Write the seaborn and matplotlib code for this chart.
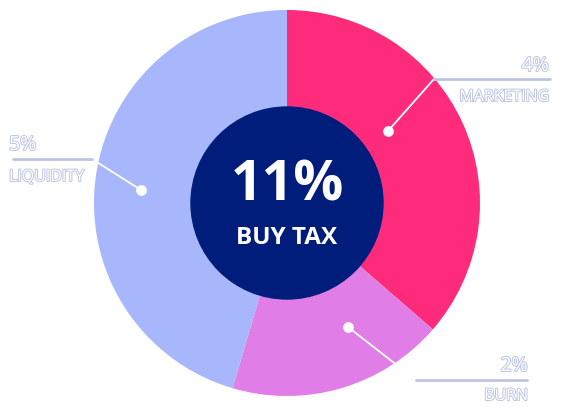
import matplotlib
matplotlib.use("Agg")
import matplotlib.pyplot as plt
import matplotlib.patheffects as pe
import seaborn as sns

categories = ["MARKETING", "BURN", "LIQUIDITY"]
values = [4, 2, 5]
value_labels = ["4%", "2%", "5%"]
center_title = "11%"
center_sub = "BUY TAX"

sns.set_theme(style="white")
plt.rcParams['font.family'] = ['Open Sans', 'DejaVu Sans']

colors = ["#FE2B7B", "#E17DE7", "#A8B7FB"]
navy = "#001D7B"
outline = "#BCC5E4"

fig = plt.figure(figsize=(5.75, 4.08), dpi=100)
ax = fig.add_axes([0, 0, 1, 1])

cx, cy, R = 287, 203, 193
ax.pie(values, colors=colors, startangle=-90, counterclock=True,
       center=(cx, cy), radius=R, wedgeprops=dict(linewidth=0))
ax.set_xlim(0, 575)
ax.set_ylim(408, 0)
ax.set_aspect("equal")
ax.axis("off")

ax.add_patch(plt.Circle((cx, cy), 96, color=navy, zorder=3))
ax.text(cx, 186, center_title, color="white", fontsize=40, fontweight="bold",
        ha="center", va="center", zorder=4)
ax.text(cx, 238, center_sub, color="white", fontsize=17.5, fontweight="bold",
        ha="center", va="center", zorder=4)

leaders = {
    "MARKETING": dict(dot=(388, 131), elbow=(434, 79), end=(550, 79),
                      ha="right", tx=549, vy=66, ly=97),
    "BURN": dict(dot=(348, 327), elbow=(416, 380), end=(527, 380),
                 ha="right", tx=528, vy=366, ly=396),
    "LIQUIDITY": dict(dot=(141, 190), elbow=(92, 159), end=(13, 159),
                      ha="left", tx=9, vy=145, ly=177),
}
stroke = [pe.withStroke(linewidth=1.4, foreground=outline)]
for cat, vl in zip(categories, value_labels):
    L = leaders[cat]
    ax.plot([L["dot"][0], L["elbow"][0]], [L["dot"][1], L["elbow"][1]],
            color="white", lw=1.3, zorder=5, solid_capstyle="round")
    ax.plot([L["elbow"][0], L["end"][0]], [L["elbow"][1], L["end"][1]],
            color=outline, lw=2, zorder=5)
    ax.scatter([L["dot"][0]], [L["dot"][1]], s=60, color="white", zorder=6, linewidths=0)
    ax.text(L["tx"], L["vy"], vl, color="white", fontsize=14, ha=L["ha"],
            va="center", path_effects=stroke, zorder=6)
    ax.text(L["tx"], L["ly"], cat, color="white", fontsize=11.5, ha=L["ha"],
            va="center", path_effects=stroke, zorder=6)

fig.savefig("out.png", dpi=100)
